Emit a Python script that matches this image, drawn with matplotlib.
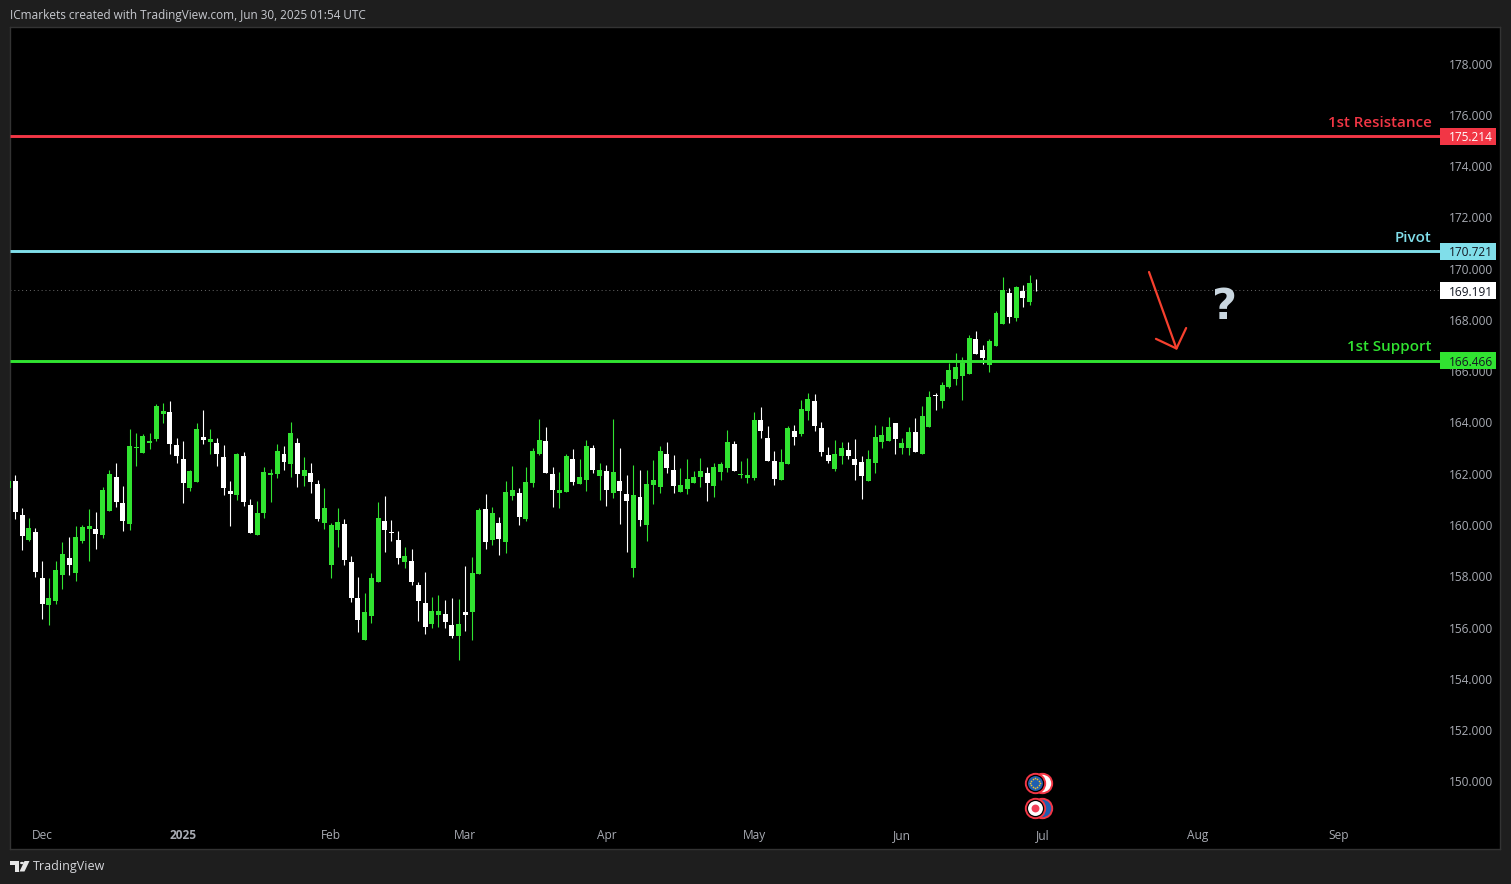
import numpy as np
import matplotlib
matplotlib.use('Agg')
import matplotlib.pyplot as plt
from matplotlib.patches import Rectangle, Polygon, Circle
from matplotlib.transforms import ScaledTranslation

# candle data (first candle is cut by the left edge)
candle_up = ("GWWGWWGGGW" "GGGWGGWWGG" "GGGGWWWGGW" "GWWWGWWGGG" "GWGWGWWGGG"
             "WWWGGGWWWG" "WWWGGWWGWG" "GWGWGGWGGG" "WWGGWGGWGW" "GWWGWGGGWW"
             "GGGGWGGGWG" "GGWWWGGWGG" "WWWGGWWWGG" "GGWGGWGGWG" "GGGGWWGGGW" "GWGW")

wick_high = [161.80, 161.99, 160.70, 160.31, 159.92, 158.64, 157.97, 158.64, 159.38, 159.57,
             160.00, 160.04, 160.66, 160.55, 161.52, 162.19, 162.46, 161.56, 163.78, 163.63,
             163.59, 163.63, 164.76, 164.80, 164.88, 163.43, 163.32, 162.19, 164.02, 164.52,
             163.78, 163.43, 163.16, 161.76, 162.85, 162.89, 161.05, 160.98, 162.30, 162.22,
             163.20, 163.12, 164.06, 163.43, 162.69, 162.46, 161.80, 161.48, 160.12, 160.70,
             160.27, 158.83, 158.01, 157.39, 158.17, 160.94, 161.17, 160.23, 159.81, 159.18,
             159.10, 157.82, 158.21, 157.23, 157.31, 157.12, 157.19, 157.15, 158.44, 158.79,
             160.70, 161.25, 160.74, 160.35, 161.76, 162.34, 161.48, 162.30, 163.04, 164.17,
             163.86, 162.30, 162.11, 162.81, 163.00, 162.61, 163.36, 163.16, 162.46, 162.38,
             164.17, 163.04, 161.99, 162.38, 162.19, 162.19, 162.58, 163.12, 163.28, 162.77,
             162.26, 162.61, 162.15, 162.65, 162.30, 162.46, 162.50, 163.75, 163.32, 162.54,
             162.65, 164.45, 164.64, 163.90, 162.93, 163.00, 163.90, 163.94, 164.92, 165.19,
             165.15, 164.06, 163.08, 163.36, 163.28, 163.28, 163.39, 162.73, 162.96, 163.94,
             163.90, 164.25, 164.02, 163.43, 163.86, 164.21, 164.68, 165.27, 165.19, 165.62,
             166.36, 166.75, 166.59, 167.45, 167.61, 167.06, 167.29, 168.39, 169.71, 169.28,
             169.36, 169.40, 169.79, 169.63]
body_high = [161.77, 161.76, 160.43, 159.92, 159.77, 157.97, 157.19, 158.29, 158.91, 158.75,
             159.57, 159.96, 160.00, 159.88, 161.40, 162.03, 161.91, 160.90, 163.12, 163.08,
             163.51, 163.32, 164.68, 164.49, 164.45, 163.16, 162.61, 162.15, 163.78, 163.47,
             163.39, 163.24, 162.69, 161.37, 162.81, 162.73, 160.82, 160.51, 162.11, 162.07,
             162.93, 162.81, 163.63, 163.24, 162.19, 162.07, 161.64, 160.70, 160.04, 160.16,
             160.08, 158.60, 157.19, 156.65, 157.97, 160.31, 160.20, 159.77, 159.46, 158.83,
             158.64, 157.70, 157.00, 156.69, 156.69, 156.57, 156.14, 156.18, 156.65, 158.17,
             160.63, 160.66, 160.51, 160.12, 161.33, 161.41, 161.29, 161.72, 162.93, 163.36,
             163.32, 162.03, 161.41, 162.73, 162.61, 161.91, 163.12, 163.04, 162.19, 162.15,
             162.11, 161.76, 161.25, 161.21, 161.13, 161.64, 161.80, 162.93, 162.81, 162.19,
             161.60, 161.83, 161.91, 162.15, 162.07, 162.30, 162.42, 163.28, 163.20, 162.03,
             161.99, 164.14, 164.14, 163.43, 162.54, 162.50, 163.82, 163.71, 164.56, 164.95,
             164.88, 163.82, 162.77, 162.81, 163.04, 162.96, 162.61, 162.50, 162.61, 163.47,
             163.55, 163.86, 164.02, 163.24, 163.67, 163.67, 164.29, 165.03, 165.11, 165.50,
             166.09, 166.20, 166.36, 167.33, 167.29, 166.86, 167.22, 168.31, 169.20, 169.09,
             169.32, 169.17, 169.48, 169.22]
body_low = [161.50, 160.55, 159.61, 159.46, 158.21, 156.96, 156.92, 157.08, 158.09, 158.48,
            158.17, 159.42, 159.88, 159.69, 159.65, 160.59, 160.94, 160.20, 160.08, 163.04,
            162.85, 163.24, 163.39, 164.37, 163.20, 162.73, 161.68, 161.48, 161.72, 163.36,
            163.28, 162.81, 161.48, 161.25, 161.21, 160.94, 159.73, 159.65, 160.51, 161.99,
            162.03, 162.50, 162.42, 162.03, 161.95, 161.72, 160.27, 160.12, 158.48, 159.84,
            158.68, 157.19, 156.33, 155.55, 156.49, 157.82, 159.84, 159.73, 158.75, 158.60,
            157.82, 157.08, 156.06, 156.18, 156.53, 156.26, 155.71, 155.71, 156.53, 156.65,
            158.13, 159.38, 159.46, 159.49, 159.38, 161.17, 160.35, 160.27, 161.68, 162.81,
            162.07, 161.41, 161.29, 161.33, 161.72, 161.64, 161.80, 162.19, 161.95, 161.41,
            161.29, 161.37, 160.98, 158.36, 160.24, 160.04, 161.60, 161.52, 162.26, 161.56,
            161.33, 161.44, 161.68, 161.91, 161.68, 161.56, 162.11, 162.26, 162.15, 161.99,
            161.87, 161.87, 163.71, 162.54, 161.83, 161.80, 162.42, 163.47, 163.59, 164.49,
            163.90, 162.89, 162.54, 162.22, 162.73, 162.73, 162.38, 161.95, 161.76, 162.46,
            163.28, 163.32, 163.39, 163.04, 163.04, 162.89, 162.81, 163.86, 165.07, 164.88,
            165.42, 165.73, 165.85, 165.93, 166.71, 166.55, 166.28, 167.02, 167.88, 168.15,
            168.11, 168.89, 168.74, 169.19]
wick_low = [161.50, 160.27, 159.07, 159.42, 158.01, 156.37, 156.14, 156.96, 157.54, 158.09,
            157.86, 159.34, 158.64, 159.10, 159.53, 160.59, 160.74, 159.81, 159.84, 162.34,
            162.85, 163.00, 163.32, 164.02, 162.81, 162.46, 160.90, 161.37, 161.72, 163.20,
            162.81, 162.34, 161.21, 160.00, 161.02, 160.78, 159.73, 159.65, 160.31, 160.94,
            161.87, 162.19, 161.91, 161.52, 161.56, 161.29, 160.20, 159.88, 157.97, 159.18,
            158.48, 157.04, 155.87, 155.55, 156.22, 157.82, 158.99, 159.42, 158.52, 158.36,
            157.70, 156.30, 155.79, 156.03, 156.06, 156.03, 155.63, 154.78, 155.91, 155.55,
            158.13, 159.10, 159.26, 158.87, 158.95, 161.02, 160.04, 160.20, 161.52, 162.77,
            162.07, 160.74, 160.70, 161.33, 161.60, 161.64, 161.37, 162.07, 161.02, 160.78,
            161.09, 160.08, 158.99, 158.01, 160.00, 159.42, 160.86, 161.29, 162.07, 161.29,
            161.33, 161.25, 161.68, 161.52, 160.98, 161.13, 161.80, 162.11, 162.15, 161.87,
            161.68, 161.80, 163.43, 162.54, 161.60, 161.80, 162.42, 163.16, 163.51, 164.14,
            163.71, 162.73, 162.46, 162.15, 162.42, 162.61, 161.80, 161.05, 161.76, 162.07,
            163.04, 163.32, 162.81, 162.81, 162.77, 162.89, 162.81, 163.86, 164.52, 164.60,
            165.38, 165.50, 164.92, 165.93, 166.71, 166.32, 166.01, 167.02, 167.88, 167.92,
            167.99, 168.54, 168.62, 169.17]

# levels
level_names = ['1st Resistance', 'Pivot', '1st Support']
level_prices = [175.214, 170.721, 166.466]
level_colors = ['#f23645', '#80deea', '#31e331']
level_text_colors = ['white', '#131722', '#131722']
last_price = 169.191

price_ticks = [150, 152, 154, 156, 158, 160, 162, 164, 166, 168, 170, 172, 174, 176, 178]
month_ticks = [5, 26, 48, 68, 89, 111, 133, 154, 177, 198]
month_labels = ['Dec', '2025', 'Feb', 'Mar', 'Apr', 'May', 'Jun', 'Jul', 'Aug', 'Sep']

plt.rcParams['font.family'] = ['Open Sans', 'DejaVu Sans']

W, H = 1511, 884
PX_PER_BAR = 6.717
PX_PER_UNIT = 25.64
LINE_SHIFT = 0.3 / PX_PER_UNIT


def px_x(p):
    return (p - 8.6) / PX_PER_BAR


def px_y(p):
    return 178 - (p - 64.5) / PX_PER_UNIT


def fig_xy(x, y):
    return x / W, 1 - y / H


fig = plt.figure(figsize=(W / 100, H / 100), dpi=100, facecolor='#1e1e1e')
ax = fig.add_axes([10 / W, 1 - 849 / H, 1490 / W, 822 / H], facecolor='black')
ax.set_xlim(px_x(10), px_x(1500))
ax.set_ylim(px_y(849), px_y(27))
for s in ax.spines.values():
    s.set_color('#333333')
    s.set_linewidth(1)

# candles
idx = np.arange(len(wick_high))
colors = ['#31e331' if c == 'G' else 'white' for c in candle_up]
ax.vlines(idx, wick_low, wick_high, colors=colors, linewidth=0.8, zorder=2)
ax.bar(idx, np.array(body_high) - np.array(body_low), bottom=body_low, width=0.74,
       color=colors, linewidth=0, zorder=3)

# levels
line_end = px_x(1440)
box_w = 56 / PX_PER_BAR
box_h = 17 / PX_PER_UNIT
text_x = px_x(1449)
ax.hlines(last_price, px_x(10), line_end, colors='#6a6a6a', linewidth=0.7,
          linestyles=(0, (1, 3)), zorder=1)
for name, p, c, tc in zip(level_names, level_prices, level_colors, level_text_colors):
    y = p - LINE_SHIFT
    ax.hlines(y, px_x(10), line_end, colors=c, linewidth=2.1, zorder=4)
    ax.annotate(name, xy=(line_end, y), xytext=(-6.2, 9.5), textcoords='offset points',
                color=c, fontsize=10.9, fontweight='semibold', ha='right', va='center', zorder=5)
    ax.add_patch(Rectangle((line_end, y - box_h / 2), box_w, box_h, facecolor=c, zorder=6))
    ax.text(text_x, y, f'{p:.3f}', color=tc, fontsize=8.6, ha='left',
            va='center_baseline', zorder=7)
ax.add_patch(Rectangle((line_end, last_price - LINE_SHIFT - box_h / 2), box_w, box_h,
                       facecolor='white', zorder=6))
ax.text(text_x, last_price - LINE_SHIFT, f'{last_price:.3f}', color='#131722', fontsize=8.6,
        ha='left', va='center_baseline', zorder=7)

# axes labels, drawn inside the frame
ax.yaxis.tick_right()
ax.set_yticks(price_ticks, [f'{t:.3f}' for t in price_ticks])
ax.set_xticks(month_ticks, month_labels)
ax.tick_params(axis='y', length=0, pad=-36.6, labelsize=8.6, labelcolor='#a8abb3')
ax.tick_params(axis='x', length=0, pad=-14.4, labelsize=8.6, labelcolor='#a8abb3')
up_1px = ScaledTranslation(0, 0.72 / 72, fig.dpi_scale_trans)
for lab in ax.get_yticklabels():
    lab.set_va('center_baseline')
    lab.set_transform(lab.get_transform() + up_1px)
ax.get_xticklabels()[1].set_fontweight('bold')

# drawn arrow and question mark
ax.annotate('', xy=(px_x(1177), px_y(350)), xytext=(px_x(1149), px_y(272)),
            arrowprops=dict(arrowstyle='->,head_length=1.05,head_width=1.05', color='#f6402e',
                            linewidth=1.6, mutation_scale=11, shrinkA=0, shrinkB=0), zorder=8)
ax.text(px_x(1225), px_y(307), '?', color='#c9d6df', fontsize=31, fontweight='bold',
        family=['DejaVu Sans'], ha='center', va='center', zorder=8)

# calendar event badges
bx = px_x(1035)
bx2 = px_x(1042)
top_y = px_y(783)
low_y = px_y(808)
ax.scatter([bx2], [top_y], s=195, facecolor='white', edgecolor='#f23645', linewidth=1.4, zorder=8)
ax.scatter([bx], [top_y], s=195, facecolor='black', edgecolor='#f23645', linewidth=1.4, zorder=9)
ax.scatter([bx], [top_y], s=115, facecolor='#1f5fb0', linewidth=0, zorder=10)
star_angles = np.arange(12) * np.pi / 6
ax.scatter(bx + 4.6 * np.cos(star_angles) / PX_PER_BAR, top_y + 4.6 * np.sin(star_angles) / PX_PER_UNIT,
           s=1.5, color='#f2c230', linewidth=0, zorder=11)
ax.scatter([bx2], [low_y], s=195, facecolor='#1f5fb0', edgecolor='#f23645', linewidth=1.4, zorder=8)
ax.scatter([bx], [low_y], s=195, facecolor='black', edgecolor='#f23645', linewidth=1.4, zorder=9)
ax.scatter([bx], [low_y], s=115, facecolor='white', linewidth=0, zorder=10)
ax.scatter([bx], [low_y], s=32, facecolor='#f23d55', linewidth=0, zorder=11)

# header and footer
fig.text(*fig_xy(10, 15), 'ICmarkets created with TradingView.com, Jun 30, 2025 01:54 UTC',
         color='#c8cad0', fontsize=8.48, va='center', ha='left')
fig.text(*fig_xy(33, 866.5), 'TradingView', color='#d5d6da', fontsize=9, va='center', ha='left')
logo_c = '#e6e6e6'
fig.add_artist(Polygon([fig_xy(10, 861), fig_xy(19, 861), fig_xy(19, 871.5), fig_xy(14.5, 871.5),
                        fig_xy(14.5, 865), fig_xy(10, 865)], closed=True, transform=fig.transFigure,
                       facecolor=logo_c, edgecolor='none'))
fig.add_artist(Polygon([fig_xy(24.5, 861), fig_xy(29.5, 861), fig_xy(24.5, 871.5), fig_xy(19.5, 871.5)],
                       closed=True, transform=fig.transFigure, facecolor=logo_c, edgecolor='none'))
fig.add_artist(Circle(fig_xy(22, 863), 2 / W, transform=fig.transFigure, facecolor=logo_c,
                      edgecolor='none'))

fig.savefig('out.png', dpi=100, facecolor=fig.get_facecolor())
